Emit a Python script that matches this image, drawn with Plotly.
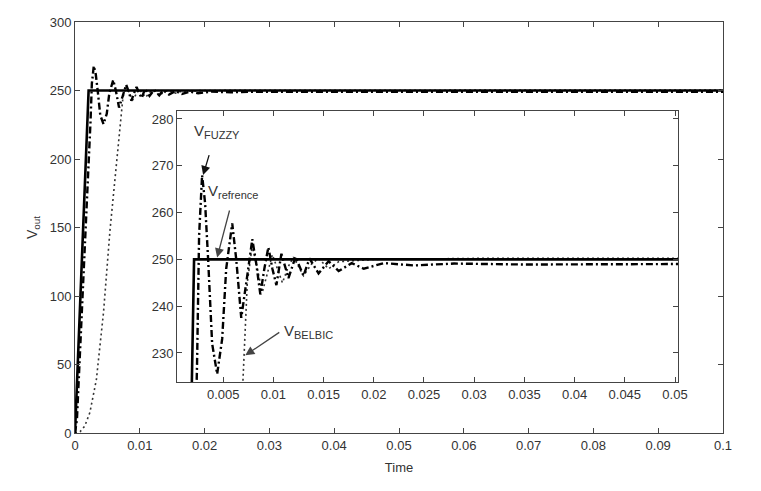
import plotly.graph_objects as go

# ---- data ----
t_ref = [0.0, 0.0021, 0.1]
v_ref = [0.0, 250.0, 250.0]

t_fuzzy = [0.0, 0.0003, 0.0024, 0.0026, 0.0029, 0.0032, 0.0035, 0.0039, 0.0044, 0.0049,
           0.0053, 0.0059, 0.0063, 0.0068, 0.0073, 0.0079, 0.0083, 0.0087, 0.0091, 0.0095,
           0.0099, 0.0103, 0.0108, 0.0115, 0.0122, 0.0130, 0.0136, 0.0145, 0.0155, 0.0165,
           0.0178, 0.0190, 0.0210, 0.0240, 0.0280, 0.0350, 0.0500, 0.1000]
v_fuzzy = [0.0, 10.0, 228.0, 255.0, 268.0, 262.0, 250.0, 232.0, 225.5, 233.0,
           248.0, 257.7, 250.0, 237.5, 245.0, 254.3, 249.0, 242.5, 248.0, 252.6,
           248.0, 244.5, 251.2, 246.0, 250.5, 246.5, 250.2, 247.0, 249.6, 247.5,
           249.2, 248.0, 249.2, 248.7, 249.1, 248.9, 249.0, 249.0]

t_belbic = [0.0, 0.0008, 0.0015, 0.0023, 0.0033, 0.0044, 0.0054, 0.0064, 0.0069, 0.0074,
            0.0079, 0.0084, 0.0089, 0.0094, 0.0099, 0.0104, 0.0109, 0.0115, 0.0120, 0.0125,
            0.0130, 0.0138, 0.0145, 0.0155, 0.0165, 0.0180, 0.0200, 0.0300, 0.0500, 0.1000]
v_belbic = [0.0, 1.0, 5.0, 15.0, 39.0, 88.0, 148.0, 197.0, 224.0, 245.0,
            253.0, 248.0, 243.0, 247.0, 251.0, 248.0, 245.0, 248.5, 250.5, 248.5,
            246.5, 249.0, 250.2, 248.0, 249.5, 249.7, 250.0, 250.2, 250.3, 250.3]

main_xticks = [0, 0.01, 0.02, 0.03, 0.04, 0.05, 0.06, 0.07, 0.08, 0.09, 0.1]
main_xlabels = ["0", "0.01", "0.02", "0.03", "0.04", "0.05", "0.06", "0.07", "0.08", "0.09", "0.1"]
main_yticks = [0, 50, 100, 150, 200, 250, 300]
inset_xticks = [0.005, 0.01, 0.015, 0.02, 0.025, 0.03, 0.035, 0.04, 0.045, 0.05]
inset_xlabels = ["0.005", "0.01", "0.015", "0.02", "0.025", "0.03", "0.035", "0.04", "0.045", "0.05"]
inset_yticks = [230, 240, 250, 260, 270, 280]

FONT = "Liberation Sans, Arial, sans-serif"
AX = "#444444"
TXT = "#333333"

fig = go.Figure()

def add_series(xa, ya):
    fig.add_trace(go.Scatter(x=t_belbic, y=v_belbic, mode="lines", xaxis=xa, yaxis=ya,
                             line=dict(color="#333333", width=1.6, dash="2px,3px"), showlegend=False))
    fig.add_trace(go.Scatter(x=t_fuzzy, y=v_fuzzy, mode="lines", xaxis=xa, yaxis=ya,
                             line=dict(color="#000000", width=2.4, dash="7px,3px,2px,3px"), showlegend=False))
    fig.add_trace(go.Scatter(x=t_ref, y=v_ref, mode="lines", xaxis=xa, yaxis=ya,
                             line=dict(color="#000000", width=2.6), showlegend=False))

add_series("x", "y")
add_series("x2", "y2")

common = dict(showline=True, linecolor=AX, linewidth=1, mirror="ticks", ticks="inside",
              ticklen=5, tickcolor=AX, showgrid=False, zeroline=False, automargin=False,
              tickfont=dict(family=FONT, size=13, color=TXT))

# the page adds an 8px body margin, so the figure is sized/offset to compensate
fig.update_layout(
    width=753, height=483,
    margin=dict(l=67, r=38, t=14, b=58, autoexpand=False),
    paper_bgcolor="white", plot_bgcolor="white",
    showlegend=False,
    xaxis=dict(domain=[0, 1], range=[0, 0.1], tickvals=main_xticks, ticktext=main_xlabels,
               title=dict(text="Time", font=dict(family=FONT, size=13, color=TXT), standoff=11),
               **common),
    yaxis=dict(domain=[0, 1], range=[0, 300], tickvals=main_yticks,
               title=dict(text="V<sub>out</sub>", font=dict(family=FONT, size=14, color=TXT), standoff=8),
               **common),
    xaxis2=dict(domain=[0.1574, 0.9306], range=[0.0004, 0.0503], anchor="y2",
                tickvals=inset_xticks, ticktext=inset_xlabels, **common),
    yaxis2=dict(domain=[0.1241, 0.7835], range=[223.8, 281.7], anchor="x2",
                tickvals=inset_yticks, **common),
)

def lab(main, sub):
    return "%s<sub><span style='font-size:11px'>%s</span></sub>" % (main, sub)

lab_font = dict(family=FONT, size=15, color=TXT)
fig.add_annotation(x=0.0019, y=277.4, xref="x2", yref="y2", text=lab("V", "FUZZY"),
                   showarrow=False, xanchor="left", yanchor="middle", font=lab_font)
fig.add_annotation(x=0.0033, y=264.5, xref="x2", yref="y2", text=lab("V", "refrence"),
                   showarrow=False, xanchor="left", yanchor="middle", font=lab_font)
fig.add_annotation(x=0.0109, y=234.6, xref="x2", yref="y2", text=lab("V", "BELBIC"),
                   showarrow=False, xanchor="left", yanchor="middle", font=lab_font)

for (hx, hy, ax, ay, col) in [(0.0030, 268.0, 9, -30, "#111111"),
                              (0.0044, 250.4, 15, -57, "#444444"),
                              (0.0072, 229.5, 37, -25, "#444444")]:
    fig.add_annotation(x=hx, y=hy, xref="x2", yref="y2", text=" ", showarrow=True,
                       ax=ax, ay=ay, arrowhead=2, arrowsize=1.4, arrowwidth=1.3,
                       arrowcolor=col, standoff=0, startstandoff=0)

fig.write_html("out.html")
